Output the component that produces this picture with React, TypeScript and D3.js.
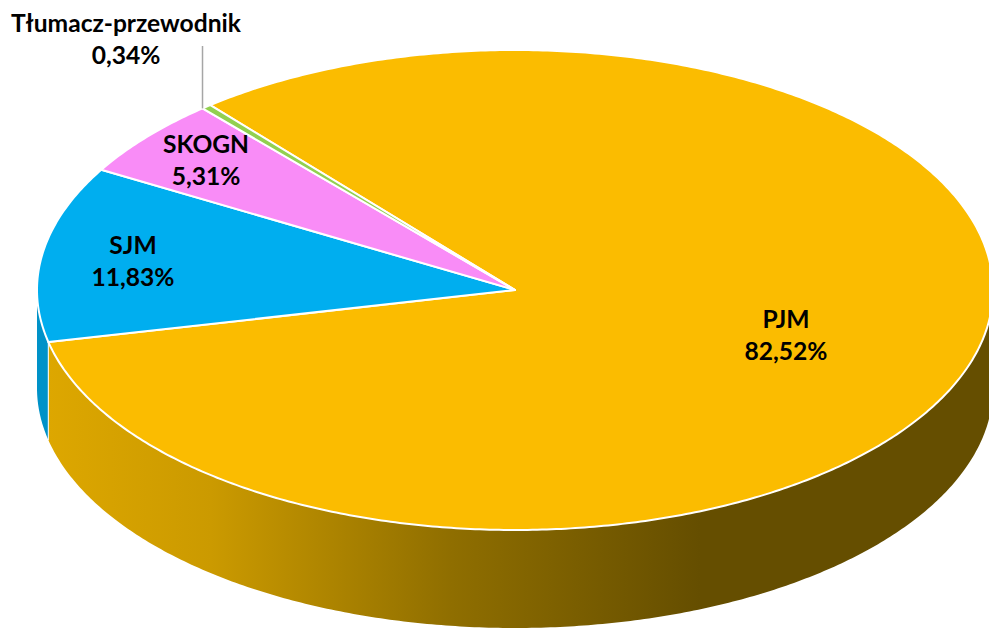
import React from "react";
import * as d3 from "d3";

const categories = ["PJM", "SJM", "SKOGN", "Tłumacz-przewodnik"];
const shares = [82.52, 11.83, 5.31, 0.34];
const shareLabels = ["82,52%", "11,83%", "5,31%", "0,34%"];

const topColors = ["#FBBC00", "#00AEEF", "#F98CF7", "#92D050"];
const labelCenters: [number, number][] = [[786, 335.5], [133, 262], [206, 160.5], [126, 39.5]];

const W = 989, H = 628;
const cx = 515, cy = 290, rx = 478, ry = 240, depth = 98;
const startAngle = (-39.6 * Math.PI) / 180;
const FONT = "Lato, 'Open Sans', sans-serif";

const px = (a: number) => cx + rx * Math.sin(a);
const py = (a: number) => cy - ry * Math.cos(a);

function samples(a0: number, a1: number): number[] {
  const n = Math.max(2, Math.ceil(Math.abs(a1 - a0) / 0.01));
  return d3.range(n + 1).map((i) => a0 + ((a1 - a0) * i) / n);
}

const line = d3.line<[number, number]>();

function slicePath(a0: number, a1: number) {
  const pts: [number, number][] = [[cx, cy], ...samples(a0, a1).map((a) => [px(a), py(a)] as [number, number])];
  return line(pts) + "Z";
}

function wallPath(a0: number, a1: number) {
  const s = samples(a0, a1);
  const top = s.map((a) => [px(a), py(a)] as [number, number]);
  const bottom = s.slice().reverse().map((a) => [px(a), py(a) + depth] as [number, number]);
  return line([...top, ...bottom]) + "Z";
}

export default function App() {
  const arcs = d3
    .pie<number>()
    .sort(null)
    .startAngle(startAngle)
    .endAngle(startAngle + 2 * Math.PI)(shares);

  const pjm = arcs[0];
  const sjm = arcs[1];
  const tl = arcs[3];
  const frontStart = Math.PI / 2;
  const frontEnd = (3 * Math.PI) / 2;
  const leaderX = px(tl.startAngle);
  const leaderY = py(tl.startAngle);

  return (
    <svg width={W} height={H} viewBox={`0 0 ${W} ${H}`} style={{ position: "absolute", left: 0, top: 0, background: "#fff" }}>
      <defs>
        <linearGradient id="wallPjm" gradientUnits="userSpaceOnUse" x1={48} y1={0} x2={700} y2={0}>
          <stop offset="0" stopColor="#DDA700" />
          <stop offset="0.25" stopColor="#CB9A00" />
          <stop offset="0.62" stopColor="#8F6E00" />
          <stop offset="1" stopColor="#654E00" />
        </linearGradient>
      </defs>

      <path d={wallPath(sjm.startAngle, frontEnd)} fill="#0092C8" />
      <path d={wallPath(frontStart, pjm.endAngle)} fill="url(#wallPjm)" />
      <line x1={px(pjm.endAngle)} x2={px(pjm.endAngle)} y1={py(pjm.endAngle)} y2={py(pjm.endAngle) + depth} stroke="#fff" strokeWidth={1.3} opacity={0.8} />

      {arcs.map((d, i) => (
        <path key={categories[i]} d={slicePath(d.startAngle, d.endAngle)} fill={topColors[i]} stroke="#fff" strokeWidth={2} strokeLinejoin="round" />
      ))}

      <line x1={leaderX} x2={leaderX} y1={46} y2={leaderY} stroke="#A6A6A6" strokeWidth={1.5} />

      {categories.map((c, i) => (
        <text key={c} x={labelCenters[i][0]} textAnchor="middle" fontFamily={FONT} fontWeight={700} fontSize={24.6} fill="#000">
          <tspan x={labelCenters[i][0]} y={labelCenters[i][1] - 8}>{c}</tspan>
          <tspan x={labelCenters[i][0]} y={labelCenters[i][1] + 24}>{shareLabels[i]}</tspan>
        </text>
      ))}
    </svg>
  );
}
